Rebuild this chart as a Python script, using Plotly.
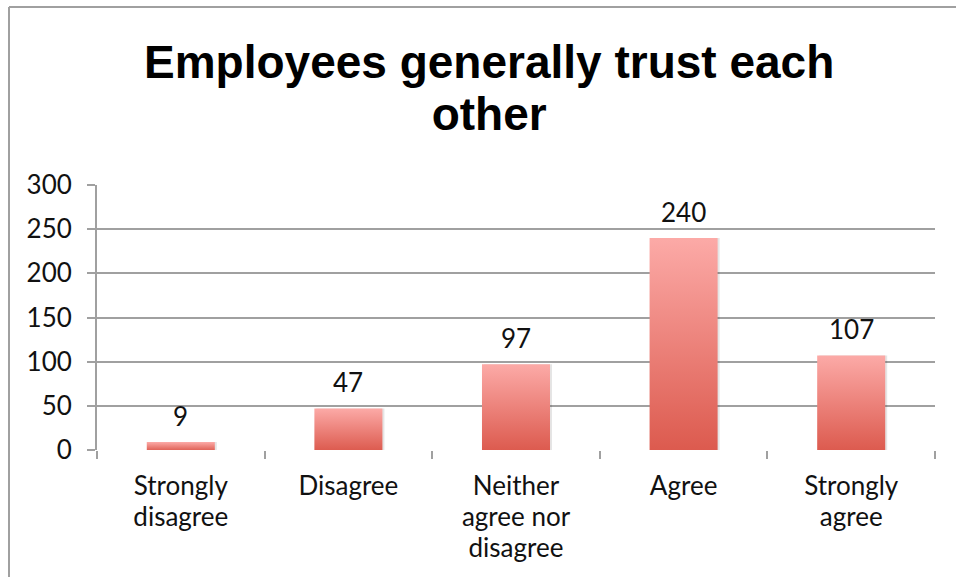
import plotly.graph_objects as go

# Survey responses: "Employees generally trust each other"
categories = ["Strongly<br>disagree", "Disagree", "Neither<br>agree nor<br>disagree", "Agree", "Strongly<br>agree"]
counts = [9, 47, 97, 240, 107]
y_ticks = [0, 50, 100, 150, 200, 250, 300]

TITLE_LINES = ["Employees generally trust each", "other"]
FONT = "Lato"
TITLE_FONT = "Liberation Sans"
GRID = "#a0a0a0"
BAR_DARK = "#dc5a4e"
BAR_LIGHT = "#fcaaa7"

W, H = 956, 577
L, R, T, B = 97, 21, 185, 127
HALF = 0.203  # half bar width in category units

fig = go.Figure()

for i, v in enumerate(counts):
    xs = [i - HALF, i + HALF, i + HALF, i - HALF, i - HALF]
    # soft drop shadow
    fig.add_trace(go.Scatter(
        x=[x + 0.012 for x in xs], y=[0, 0, v, v, 0],
        fill="toself", mode="lines", line=dict(width=0),
        fillcolor="rgba(0,0,0,0.10)", hoverinfo="skip", showlegend=False,
    ))
    # gradient-filled bar
    fig.add_trace(go.Scatter(
        x=xs, y=[-1.2, -1.2, v, v, -1.2],
        fill="toself", mode="lines", line=dict(width=0),
        fillgradient=dict(type="vertical",
                          colorscale=[[0, BAR_DARK], [1, BAR_LIGHT]]),
        hovertemplate="%{text}<extra></extra>", text=[str(v)] * 5,
        showlegend=False,
    ))
    fig.add_annotation(x=i, y=v, text=str(v), showarrow=False,
                       yanchor="bottom", yshift=8,
                       font=dict(family=FONT, size=26, color="#111"))

# pixel -> paper helpers for the chart furniture
px_to_x = lambda px: (px - L) / (W - L - R)
px_to_y = lambda py: (H - B - py) / (H - T - B)

# title: base font 40 sets a 52px line pitch, spans draw the glyphs at 46px
title_html = "<br>".join(
    f"<span style='font-size:46px'><b>{ln}</b></span>" for ln in TITLE_LINES)
fig.add_annotation(xref="paper", yref="paper", x=px_to_x(489), y=px_to_y(88),
                   text=title_html, showarrow=False,
                   xanchor="center", yanchor="middle",
                   font=dict(family=TITLE_FONT, size=40, color="black"))

# category labels: base 24px gives a tighter line pitch, glyphs at 26px
tick_text = ["<br>".join(f"<span style='font-size:26px'>{p}</span>"
                         for p in c.split("<br>")) for c in categories]

# chart frame (left and top edges)
fig.add_shape(type="line", xref="paper", yref="paper",
              x0=px_to_x(9), x1=px_to_x(9), y0=px_to_y(7), y1=px_to_y(H + 5),
              line=dict(color=GRID, width=2))
fig.add_shape(type="line", xref="paper", yref="paper",
              x0=px_to_x(9), x1=px_to_x(W + 5), y0=px_to_y(7), y1=px_to_y(7),
              line=dict(color=GRID, width=2))

fig.update_layout(
    width=W, height=H,
    margin=dict(l=L, r=R, t=T, b=B, autoexpand=False),
    paper_bgcolor="white", plot_bgcolor="white",
    font=dict(family=FONT, size=26, color="#111"),
    xaxis=dict(
        range=[-0.5, len(categories) - 0.5],
        tickvals=list(range(len(categories))), ticktext=tick_text,
        ticks="", showgrid=False, zeroline=False, automargin=False,
        showline=False, ticklabelstandoff=20,
        tickfont=dict(size=24),
        minor=dict(tickvals=[k - 0.5 for k in range(len(categories) + 1)],
                   ticks="outside", ticklen=8, tickwidth=2, tickcolor=GRID,
                   showgrid=False),
        fixedrange=True,
    ),
    yaxis=dict(
        range=[0, 300], tickvals=y_ticks, automargin=False,
        showgrid=True, gridcolor=GRID, gridwidth=2,
        zeroline=False, showline=True, linecolor=GRID, linewidth=2,
        ticks="outside", ticklen=8, tickwidth=2, tickcolor=GRID,
        ticklabelstandoff=10, tickfont=dict(size=26),
        fixedrange=True,
    ),
)

fig.write_html("out.html")
